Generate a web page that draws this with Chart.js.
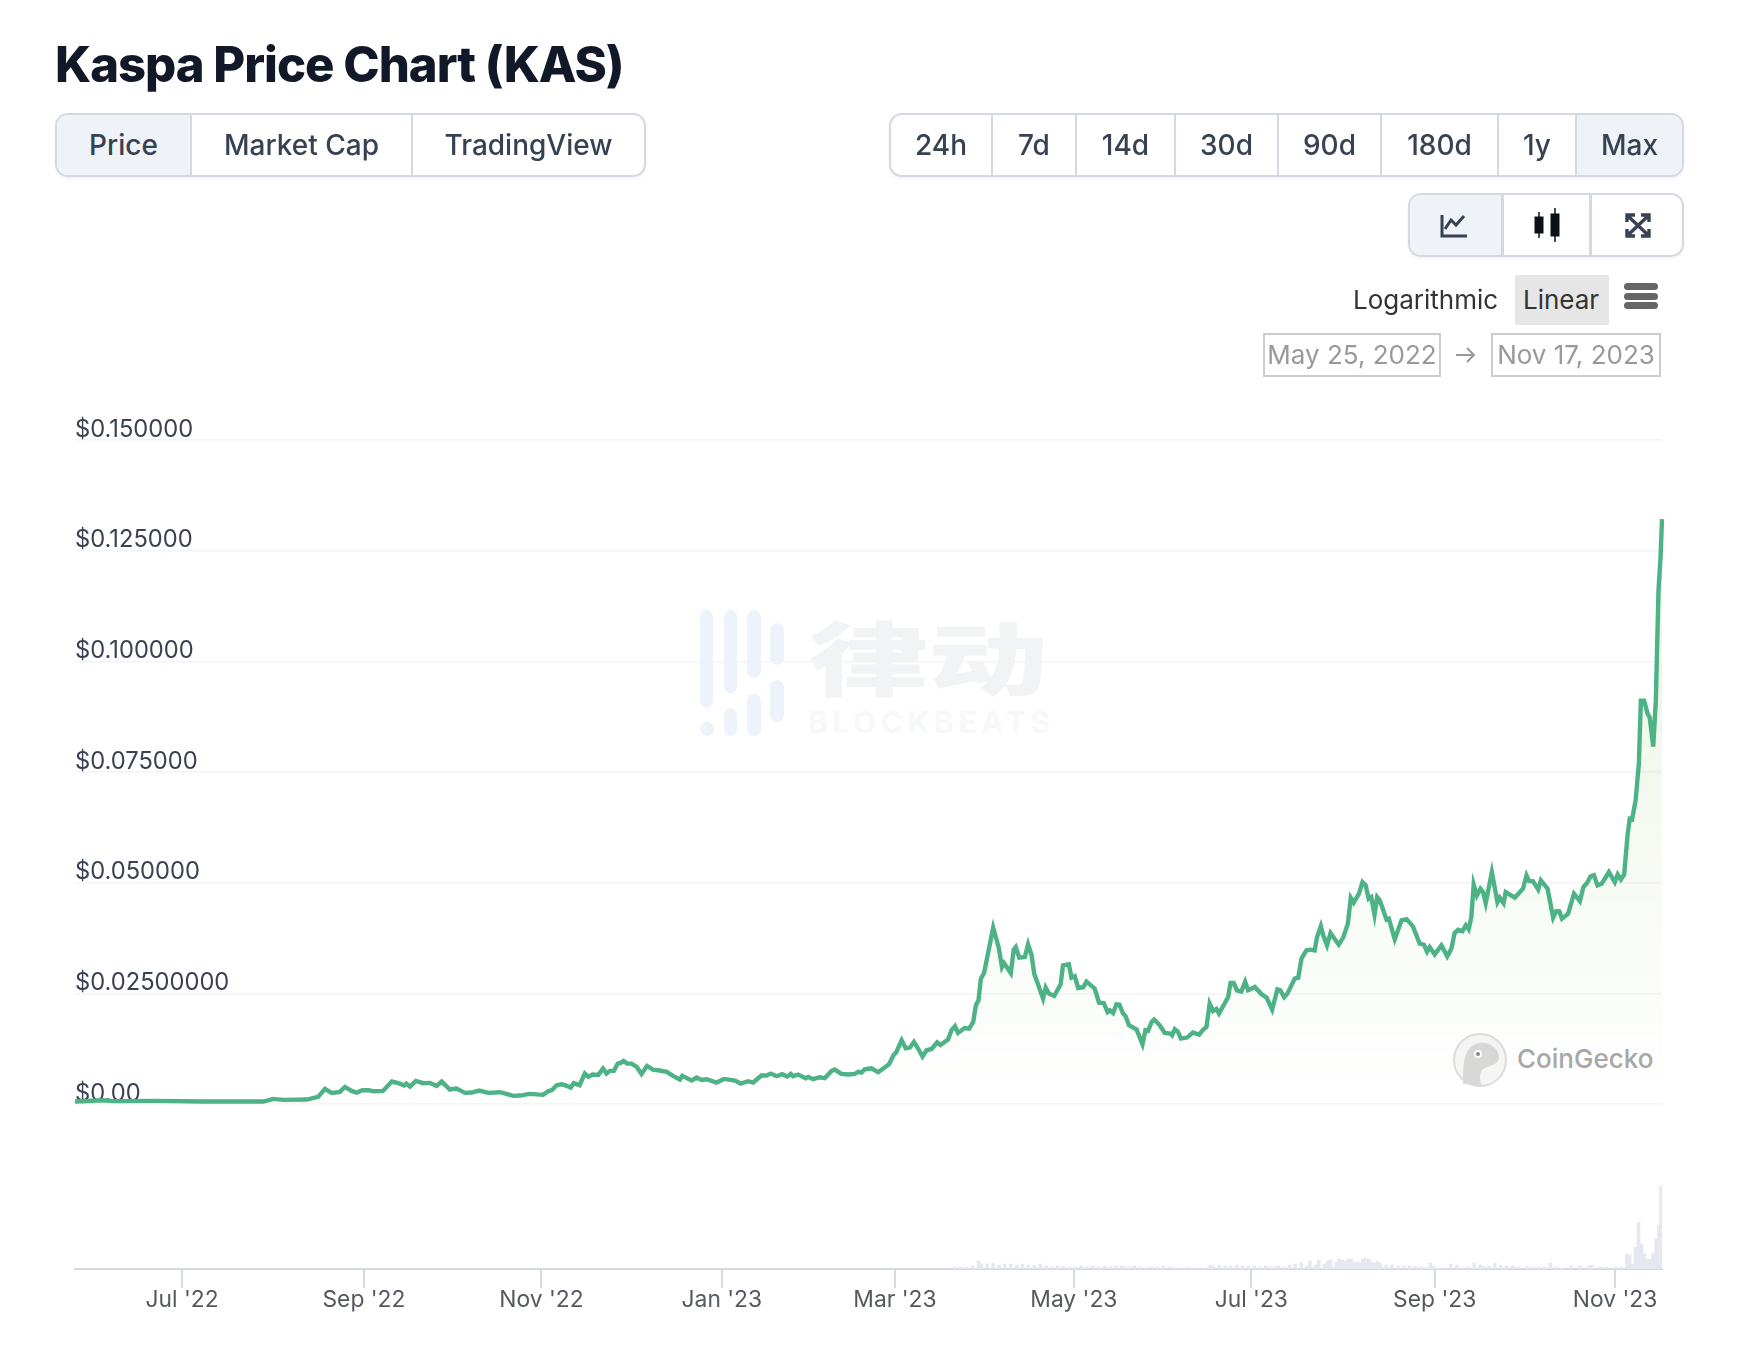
<!DOCTYPE html>
<html>
<head>
<meta charset="utf-8">
<title>Kaspa Price Chart (KAS)</title>
<script src="https://cdn.jsdelivr.net/npm/chart.js@4"></script>
<style>
    html, body { margin: 0; padding: 0; background: #fff; }
    body { width: 1750px; height: 1346px; position: relative; overflow: hidden; font-family: Inter, "Noto Sans", sans-serif; color: #364152; }
    h1 { position: absolute; left: 55px; top: 34px; margin: 0; font-size: 49px; line-height: 62px; font-weight: 800; color: #111827; letter-spacing: -1px; white-space: nowrap; }
    canvas { position: absolute; left: 0; top: 0; }
    .group { position: absolute; box-sizing: border-box; height: 64px; border: 2px solid #d3d8e2; border-radius: 13px; box-shadow: 0 2px 3px rgba(16,24,40,.05); overflow: hidden; background: #fff; }
    .btn { position: absolute; top: 0; height: 60px; line-height: 60px; text-align: center; font-size: 28px; font-weight: 500; color: #364152; box-sizing: border-box; border-right: 2px solid #d3d8e2; }
    .btn.last { border-right: 0; }
    .btn.on { background: #eff2f6; }
    .txt { position: absolute; white-space: nowrap; font-size: 26px; color: #333; }
    .date { position: absolute; box-sizing: border-box; top: 333px; height: 44px; line-height: 40px; border: 2px solid #ccc; text-align: center; font-size: 26px; color: #999; white-space: nowrap; }
    svg { position: absolute; left: 0; top: 0; }
</style>
</head>
<body>
<svg id="watermark" width="1750" height="1346">
    <g fill="#eef2fb">
        <rect x="700" y="610" width="13" height="98" rx="6.5"/><circle cx="707" cy="729" r="7"/>
        <rect x="724" y="610" width="13" height="83" rx="6.5"/><rect x="724" y="708" width="13" height="28" rx="6.5"/>
        <rect x="747" y="610" width="14" height="68" rx="7"/><rect x="747" y="694" width="14" height="42" rx="7"/>
        <rect x="770" y="623" width="14" height="42" rx="7"/><rect x="770" y="680" width="14" height="42" rx="7"/>
    </g>
    <text transform="translate(808 689) scale(1.5 1)" font-family="Noto Sans CJK SC" font-weight="900" font-size="80" fill="#f2f3f5">律动</text>
    <text x="808" y="733" font-family="Inter" font-weight="700" font-size="30" textLength="242" fill="#f7f8f9">BLOCKBEATS</text>
    <circle cx="1480" cy="1060" r="26" fill="#f6f6f6" stroke="#dcdcdc" stroke-width="2"/>
    <path d="M1463 1084 C1463 1066 1463 1046 1479 1043 C1490 1041 1500 1050 1499 1058 C1498 1066 1486 1066 1482 1070 C1479 1074 1480 1082 1482 1086 Z" fill="#d9d9d9"/>
    <circle cx="1478" cy="1054" r="4" fill="#fff"/><circle cx="1478" cy="1054" r="2" fill="#888"/>
    <text x="1517" y="1068" font-family="Inter" font-weight="500" font-size="26" fill="#a8a8a8">CoinGecko</text>
</svg>

<canvas id="priceChart" width="1750" height="1346"></canvas>

<h1>Kaspa Price Chart (KAS)</h1>

<div class="group" style="left:55px;top:113px;width:591px">
    <div class="btn on" style="left:0;width:135px">Price</div>
    <div class="btn" style="left:135px;width:221px">Market Cap</div>
    <div class="btn last" style="left:356px;width:231px">TradingView</div>
</div>

<div class="group" style="left:889px;top:113px;width:795px">
    <div class="btn" style="left:0;width:102px">24h</div>
    <div class="btn" style="left:102px;width:84px">7d</div>
    <div class="btn" style="left:186px;width:99px">14d</div>
    <div class="btn" style="left:285px;width:103px">30d</div>
    <div class="btn" style="left:388px;width:103px">90d</div>
    <div class="btn" style="left:491px;width:117px">180d</div>
    <div class="btn" style="left:608px;width:78px">1y</div>
    <div class="btn on last" style="left:686px;width:105px">Max</div>
</div>

<div class="group" style="left:1408px;top:193px;width:276px">
    <div class="btn on" style="left:0;width:94px;border-right-width:3px"></div>
    <div class="btn" style="left:94px;width:88px;border-right-width:3px"></div>
    <div class="btn last" style="left:182px;width:90px"></div>
</div>
<svg width="1750" height="1346" style="pointer-events:none">
    <path d="M1442 215 V236 H1467 M1445 229 L1451 220 L1456 225 L1464 216" fill="none" stroke="#364152" stroke-width="3"/>
    <g fill="#0d1117" stroke="#0d1117">
        <rect x="1535" y="217" width="8" height="16"/><line x1="1539" y1="212" x2="1539" y2="238" stroke-width="1.5"/>
        <rect x="1551" y="214" width="8" height="22"/><line x1="1555" y1="208" x2="1555" y2="242" stroke-width="1.5"/>
    </g>
    <path d="M1627 222 V215 H1635 M1641 215 H1649 V222 M1649 229 V236 H1641 M1635 236 H1627 V229 M1629 217 L1647 234 M1647 217 L1629 234" fill="none" stroke="#364152" stroke-width="3.4"/>
    <path d="M1456 355 H1474 M1467 348 L1474 355 L1467 362" fill="none" stroke="#999" stroke-width="2"/>
    <g fill="#666">
        <rect x="1624" y="283" width="34" height="7" rx="3.5"/><rect x="1624" y="293" width="34" height="7" rx="3.5"/><rect x="1624" y="302" width="34" height="7" rx="3.5"/>
    </g>
</svg>

<div class="txt" style="left:1353px;top:284px">Logarithmic</div>
<div style="position:absolute;left:1515px;top:275px;width:94px;height:50px;background:#e6e6e6;border-radius:2px"></div>
<div class="txt" style="left:1523px;top:284px">Linear</div>
<div class="date" style="left:1263px;width:178px">May 25, 2022</div>
<div class="date" style="left:1491px;width:170px">Nov 17, 2023</div>

<script>
// dias desde May 25, 2022
var priceDays = [0, 9.7, 13, 27.8, 43.7, 64.2, 67.6, 71, 79, 82.9, 85.2, 87.5, 90.3, 92, 94.3, 96, 98, 100, 101.7, 105,
    108, 110.2, 112.2, 113, 114.2, 116.2, 118.7, 121, 123.3, 125, 127.8, 129, 130, 133, 135.2, 137.8, 140.9, 144.9, 149.4, 151.7,
    155, 159.6, 161.3, 162.5, 164.2, 165.9, 167, 169, 170, 172, 173.8, 175, 176.4, 178.4, 180, 181.2, 182.3, 183.7, 185, 186,
    187, 188.2, 189.7, 191.5, 193.1, 195, 197, 198.8, 201.7, 204, 206.2, 207, 210.2, 211.9, 213.6, 215.3, 218.7, 221.2, 225, 226.9,
    229.5, 231.2, 234, 235.7, 237.2, 239.2, 241, 242.8, 244, 244.8, 246.5, 249.1, 250, 251.6, 253.9, 255.6, 257.9, 259, 261.3, 263.6,
    265.8, 267, 268.1, 269.2, 271.5, 273.8, 277.5, 279, 280, 281.8, 283.2, 284.6, 286, 287.4, 288.9, 290.3, 292, 293.9, 295, 297.6,
    298.8, 300, 301, 303.3, 304.8, 306.2, 307.1, 308, 308.8, 309.9, 313, 314.9, 316, 316.7, 319, 320, 320.7, 321.9, 323.8, 324.9,
    326.1, 327, 330, 330.9, 332, 333.8, 336, 336.8, 338.8, 339.7, 340.8, 342, 343.7, 344.8, 347.6, 349.1, 350.7, 352, 352.8, 353.9,
    355, 356, 357.3, 358.1, 359.3, 361.9, 363.9, 364.9, 365.8, 367, 367.9, 369.8, 371.5, 373.4, 374, 374.9, 376, 377, 379.1, 381.1,
    383.2, 384.6, 385.7, 386.8, 388, 389.1, 390, 393.1, 393.9, 395, 396.1, 397.6, 398.9, 399.9, 402.2, 404.5, 406.2, 408.1, 409.9, 410.9,
    412.2, 413.3, 415.8, 417, 418.1, 419.8, 421.2, 422.6, 423.4, 424.7, 425.5, 426.8, 428, 430.8, 432.3, 433.9, 434.9, 435.9, 437.7, 438.9,
    440, 441, 441.9, 443, 443.9, 444.8, 447.1, 447.9, 449.9, 452.2, 453.9, 456.1, 458.4, 459.8, 460.9, 461.8, 463.5, 465.8, 467.8, 469.2,
    470.3, 471.5, 473, 474.1, 475.1, 476, 476.8, 477.9, 479.1, 480, 480.9, 483, 484.9, 485.7, 487, 487.7, 490.8, 493.6, 494.8, 495.7,
    497, 498.8, 499.7, 502, 503.9, 505, 506, 506.9, 509, 511, 513, 514.2, 515.5, 516.6, 517.8, 519, 520.4, 521.5, 522.9, 524.9,
    525.9, 527, 528.1, 529.3, 530, 530.8, 532, 533.1, 533.8, 534.9, 536.1, 536.8, 538, 538.9, 539.8, 540.5, 541];
var priceValues = [.0006, .0009, .0007, .00075, .0006, .0006, .0012, .00097, .00105, .00165, .00346, .00256, .00278, .0039, .003, .00263, .00316, .00316, .00293, .003,
    .00511, .00474, .00421, .00466, .00398, .00526, .00474, .00481, .00413, .00511, .0033, .00346, .00353, .00256, .00263, .00308, .00256, .0027, .00188, .00195,
    .00233, .00211, .00293, .00316, .00429, .00451, .00429, .00376, .00474, .00429, .00692, .00617, .0067, .00662, .00805, .00692, .00752, .00752, .00917, .00932,
    .00978, .00917, .00917, .00842, .00684, .00865, .00782, .00767, .00729, .00632, .00556, .00639, .00534, .00602, .00549, .00564, .00489, .00571, .00534, .00466,
    .00519, .00489, .00647, .00647, .00692, .00632, .00677, .00624, .00684, .00632, .0067, .00587, .00617, .00564, .00609, .00587, .00752, .00782, .00684, .0067,
    .00684, .00729, .00715, .0079, .00812, .00722, .00902, .01105, .0118, .01444, .01263, .01279, .01406, .01257, .01076, .01218, .01248, .01399, .01338, .0146,
    .0167, .0176, .01609, .01721, .01708, .01857, .02233, .02346, .02836, .02962, .03986, .03535, .03098, .03188, .02962, .0349, .03549, .0331, .03323, .0361,
    .03361, .02949, .02385, .02633, .02497, .02443, .02707, .03136, .03158, .02858, .02888, .02624, .0264, .02768, .0261, .02294, .02285, .02082, .02121, .0206,
    .02256, .02249, .02046, .01992, .01782, .01685, .01354, .0167, .01654, .01857, .01911, .01782, .01609, .01595, .01557, .01692, .01631, .01482, .01505, .01618,
    .01572, .01685, .01744, .02272, .02105, .0215, .02046, .02421, .02737, .02737, .02572, .02543, .02768, .02572, .02646, .02482, .02407, .02136, .02594, .02572,
    .02414, .02497, .02836, .02858, .03287, .03474, .0349, .03474, .03774, .04022, .03813, .03587, .03865, .03603, .03761, .04077, .04663, .0455, .04753, .05015,
    .04941, .0464, .04677, .0428, .04677, .04602, .04167, .04189, .03722, .04151, .0418, .04016, .03625, .03603, .03445, .03549, .03384, .03587, .03339, .03513,
    .03865, .03941, .0391, .04038, .03948, .04226, .04963, .04715, .04866, .0479, .04541, .05241, .04564, .04663, .04541, .0479, .04663, .04866, .05166, .05038,
    .05038, .0485, .05053, .04866, .04212, .04361, .04354, .04189, .04302, .04753, .04586, .04902, .05, .05144, .05173, .04941, .04979, .05092, .05241, .05015,
    .05189, .05076, .05189, .06107, .06445, .0643, .06858, .07686, .09114, .09114, .08814, .08737, .08076, .09114, .11596, .12347, .13213];

var volumeDays = [300, 302, 304, 306, 308, 309, 311, 313, 315, 317, 319, 321, 323, 325, 327, 329, 331, 333, 335, 337,
    339, 341, 343, 345, 347, 349, 351, 353, 355, 357, 359, 361, 363, 365, 367, 369, 371, 373, 375, 377,
    379, 381, 383, 385, 387, 388, 390, 392, 394, 396, 398, 400, 402, 404, 406, 408, 410, 412, 414, 416,
    418, 420, 421, 423, 424, 426, 427, 428, 430, 431, 432, 433, 434, 435, 436, 437, 438, 439, 440, 441,
    442, 443, 444, 445, 447, 449, 451, 453, 455, 457, 459, 461, 462, 463, 465, 467, 469, 471, 473, 475,
    477, 479, 480, 482, 484, 486, 488, 490, 492, 495, 497, 499, 501, 503, 505, 507, 510, 513, 516, 517,
    520, 522, 525, 527, 529, 530, 531, 532, 533, 534, 535, 536, 537, 538, 539, 540, 540.7];
// millones USD (estimado)
var volumeValues = [2, 2, 2, 3, 8, 5, 5, 6, 4, 5, 5, 4, 5, 4, 4, 5, 3, 2, 3, 3,
    2, 2, 3, 2, 3, 2, 3, 2, 3, 3, 2, 3, 2, 1, 2, 2, 3, 2, 1, 1,
    2, 1, 1, 1, 4, 3, 4, 3, 3, 4, 3, 3, 3, 2, 3, 2, 3, 2, 4, 5,
    6, 3, 8, 4, 9, 5, 8, 9, 7, 10, 9, 8, 10, 10, 7, 7, 6, 10, 11, 10,
    7, 6, 8, 6, 4, 4, 3, 3, 3, 3, 2, 1, 6, 3, 1, 1, 5, 4, 1, 2,
    6, 4, 3, 3, 6, 4, 3, 3, 2, 3, 2, 2, 2, 6, 2, 1, 3, 3, 3, 4,
    2, 2, 2, 2, 15, 14, 5, 22, 47, 25, 15, 10, 10, 16, 30, 44, 83];

var priceTicks = [0, .025, .05, .075, .1, .125, .15];
var priceLabels = ['$0.00', '$0.02500000', '$0.050000', '$0.075000', '$0.100000', '$0.125000', '$0.150000'];
var tickDays = [36.5, 98.5, 159, 220.5, 279.5, 340.5, 401, 463.5, 525];
var tickLabels = ["Jul '22", "Sep '22", "Nov '22", "Jan '23", "Mar '23", "May '23", "Jul '23", "Sep '23", "Nov '23"];

document.addEventListener('DOMContentLoaded', function () {
    var ctx = document.getElementById('priceChart').getContext('2d');

    var fillColor = function (context) {
        var chart = context.chart;
        if (!chart.chartArea) return 'rgba(104,180,80,0.1)';
        var scale = chart.scales.y;
        var grad = chart.ctx.createLinearGradient(0, scale.getPixelForValue(.13), 0, scale.getPixelForValue(0));
        grad.addColorStop(0, 'rgba(110,180,70,0.15)');
        grad.addColorStop(1, 'rgba(110,180,70,0)');
        return grad;
    };

    new Chart(ctx, {
        type: 'line',
        data: {
            datasets: [{
                type: 'line',
                label: 'Price',
                data: priceDays.map(function (d, i) { return { x: d, y: priceValues[i] }; }),
                borderColor: '#4db285',
                borderWidth: 4.4,
                backgroundColor: fillColor,
                fill: { value: 0 },
                pointRadius: 0,
                tension: 0,
                clip: false,
                yAxisID: 'y',
                order: 1
            }, {
                type: 'bar',
                label: 'Volume',
                data: volumeDays.map(function (d, i) { return { x: d, y: volumeValues[i] }; }),
                backgroundColor: '#e5e8f1',
                barThickness: 3,
                yAxisID: 'volume',
                order: 2
            }]
        },
        options: {
            responsive: false,
            animation: false,
            layout: { padding: { left: 75, right: 88, top: 440, bottom: 0 } },
            plugins: { legend: { display: false }, tooltip: { enabled: false } },
            scales: {
                x: {
                    type: 'linear',
                    offset: false,
                    min: 0,
                    max: 541,
                    afterFit: function (scale) { scale.height = 77; },
                    afterBuildTicks: function (axis) {
                        axis.ticks = tickDays.map(function (v) { return { value: v }; });
                    },
                    border: { color: '#d5d9e6', width: 2 },
                    grid: { offset: false, drawOnChartArea: false, color: '#d5d9e6', lineWidth: 2, tickLength: 19 },
                    ticks: {
                        autoSkip: false,
                        maxRotation: 0,
                        padding: -2,
                        color: '#55585f',
                        font: { family: 'Inter', size: 22.8 },
                        callback: function (v, i) { return tickLabels[i]; }
                    }
                },
                y: {
                    min: -0.03722,
                    max: .15,
                    afterFit: function (scale) { scale.width = 0; },
                    afterBuildTicks: function (axis) {
                        axis.ticks = priceTicks.map(function (v) { return { value: v }; });
                    },
                    border: { display: false },
                    grid: { color: '#f3f4f6', lineWidth: 1.5, drawTicks: false },
                    ticks: {
                        mirror: true,
                        padding: 0,
                        labelOffset: -10.5,
                        color: '#3a4252',
                        font: { family: 'Inter', size: 23.7 },
                        callback: function (v, i) { return priceLabels[i]; }
                    }
                },
                volume: {
                    display: false,
                    min: 0,
                    max: 829
                }
            }
        }
    });
});
</script>
</body>
</html>
